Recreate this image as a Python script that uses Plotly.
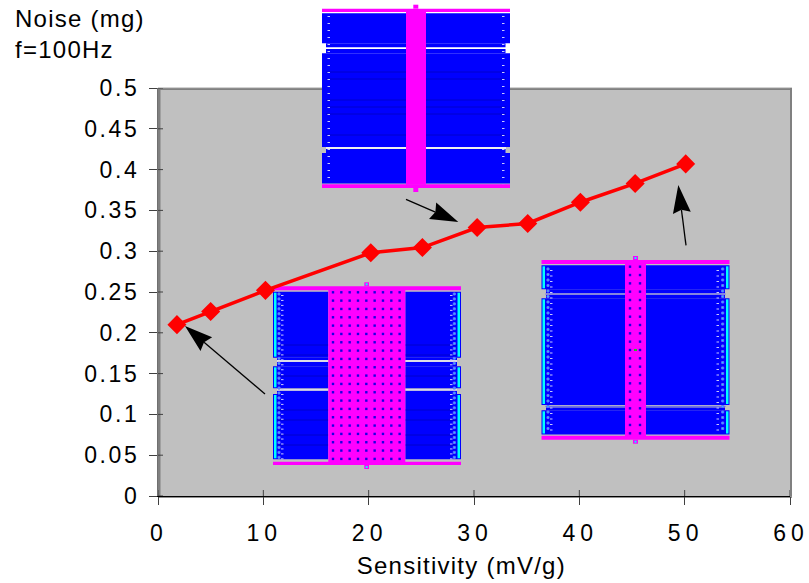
import math
import plotly.graph_objects as go

# ---- chart data ----
sensitivity = [1.8, 5, 10.2, 20.2, 25.1, 30.3, 35.1, 40.1, 45.3, 50.1]
noise = [0.21, 0.226, 0.252, 0.298, 0.3045, 0.329, 0.334, 0.36, 0.383, 0.407]
x_ticks = [0, 10, 20, 30, 40, 50, 60]
y_ticks = [0, 0.05, 0.1, 0.15, 0.2, 0.25, 0.3, 0.35, 0.4, 0.45, 0.5]
x_title = "Sensitivity (mV/g)"
y_title = "Noise (mg)<br>f=100Hz"

W, H = 809, 583
L, R, T, B = 158, 790, 88, 496
BLUE, MAG, CYAN = "#0000FF", "#FF00FF", "#00FFFF"


def px(x):
    return (x - L) / (R - L)


def py(y):
    return (B - y) / (B - T)


shapes = []


def rect(x0, y0, x1, y1, color, line=None):
    shapes.append(dict(type="rect", xref="paper", yref="paper", layer="below",
                       x0=px(x0), x1=px(x1), y0=py(y0), y1=py(y1), fillcolor=color,
                       line=dict(width=1 if line else 0, color=line or color)))


def hline(x0, x1, y, color, width=1):
    shapes.append(dict(type="line", xref="paper", yref="paper", layer="below",
                       x0=px(x0), x1=px(x1), y0=py(y), y1=py(y),
                       line=dict(width=width, color=color)))


def inset(xl, xr, nl, nr, cl, cr, tabl, tabr, bar_top, bar_bot, wide, narrow, gaps,
          gapcolor, faint, dots_x, dots_y, cyan, tab_len, side_y, sx_l, sx_r, tick_l, tick_r):
    # blue winding blocks, left and right of the centre column
    for y0, y1 in narrow:
        rect(nl, y0, cl, y1, BLUE)
        rect(cr, y0, nr, y1, BLUE)
    for y0, y1 in wide:
        rect(xl, y0, cl, y1, BLUE)
        rect(cr, y0, xr, y1, BLUE)
        if cyan:
            rect(xl + 1, y0 + 1, xl + 3.5, y1 - 1, CYAN)
            rect(xr - 3.5, y0 + 1, xr - 1, y1 - 1, CYAN)
    for y in gaps:
        hline(xl + 4, cl, y, gapcolor, 1.3)
        hline(cr, xr - 4, y, gapcolor, 1.3)
    for y in faint:
        hline(xl + 4, cl, y, "#0000CC", 1)
        hline(cr, xr - 4, y, "#0000CC", 1)
    # side pads and small ticks
    for y in side_y:
        if cyan:
            rect(sx_l - 1, y - 1, sx_l + 1, y + 1, CYAN, "#6666FF")
            rect(sx_r - 1, y - 1, sx_r + 1, y + 1, CYAN, "#6666FF")
        hline(tick_l, tick_l + 2.5, y + 1.5, "#C8C8FF", 1)
        hline(tick_r - 2.5, tick_r, y + 1.5, "#C8C8FF", 1)
    # magenta centre, caps and tabs
    rect(cl, bar_top[1] - 0.5, cr, bar_bot[0] + 0.5, MAG)
    rect(xl, bar_top[0], xr, bar_top[1], MAG)
    rect(xl, bar_bot[0], xr, bar_bot[1], MAG)
    rect(tabl, bar_top[0] - tab_len, tabr, bar_top[0], MAG)
    rect(tabl, bar_bot[1], tabr, bar_bot[1] + tab_len, MAG)
    if cyan:
        mid = (tabl + tabr) / 2
        rect(mid - 1, bar_top[0] - tab_len + 1, mid + 1, bar_top[0] - 1, CYAN)
        rect(mid - 1, bar_bot[1] + 1, mid + 1, bar_bot[1] + tab_len - 1, CYAN)
    for yy in dots_y:
        for xx in dots_x:
            rect(xx - 1.2, yy - 1.2, xx + 1.2, yy + 1.2, "#1A00E0")


def arrow(x0, y0, x1, y1, length=28, half=9, notch=3):
    # tail (x0, y0) to tip (x1, y1): thin shaft and a filled head
    d = math.hypot(x1 - x0, y1 - y0)
    ux, uy = (x1 - x0) / d, (y1 - y0) / d
    nx, ny = -uy, ux
    bx, by = x1 - ux * length, y1 - uy * length
    cx, cy = x1 - ux * (length - notch), y1 - uy * (length - notch)
    shapes.append(dict(type="line", xref="paper", yref="paper", layer="above",
                       x0=px(x0), y0=py(y0), x1=px(cx), y1=py(cy),
                       line=dict(color="#000000", width=1.3)))
    pts = [(x1, y1), (bx + nx * half, by + ny * half), (cx, cy), (bx - nx * half, by - ny * half)]
    path = "M" + " L".join(f"{px(a):.5f},{py(b):.5f}" for a, b in pts) + " Z"
    shapes.append(dict(type="path", xref="paper", yref="paper", layer="above", path=path,
                       fillcolor="#000000", line=dict(width=0)))


# chart frame shadow
rect(L - 0.5, T, R + 2, T + 2, "#808080")
hline(L, R + 2, T - 0.3, "#C8C8C8", 1)
rect(L, T, L + 2.5, B, "#808080")
rect(R, T, R + 2, B + 2, "#808080")
rect(L, B, R + 2, B + 2, "#909090")

# top inset
inset(322, 510, 326, 505.5, 406, 426, 413.3, 418.3, (8.7, 12), (184.3, 188),
      wide=[(13.3, 43.3), (53.3, 147), (153, 183.5)],
      narrow=[(43.3, 47.5), (49, 53.3), (149, 153)],
      gaps=[48.2, 148], gapcolor="#FFFFFF",
      faint=[72, 79, 100, 107, 114, 135], dots_x=[], dots_y=[], cyan=False, tab_len=4,
      side_y=[15 + 7 * i for i in range(25)], sx_l=328, sx_r=504, tick_l=327.5, tick_r=504.5)

# lower-left inset
inset(273, 461, 277, 457, 328.3, 405.3, 364.3, 369, (286.3, 290.3), (461.7, 465),
      wide=[(291.7, 357.7), (366.3, 388.3), (394, 459.3)],
      narrow=[(357.7, 360), (362, 366.3), (390.8, 394)],
      gaps=[361, 389.8], gapcolor="#E4E4F4",
      faint=[345, 355, 376, 410, 420, 435, 445],
      dots_x=[333 + 8.33 * i for i in range(9)], dots_y=[292.3 + 8.33 * i for i in range(21)],
      cyan=True, tab_len=4, side_y=[294 + 4.95 * i for i in range(34)],
      sx_l=279, sx_r=454.3, tick_l=281, tick_r=452.5)

# lower-right inset
inset(541.5, 729.5, 546, 725, 625, 646, 633, 638, (260, 264), (435.7, 439.7),
      wide=[(265.3, 289.3), (298.3, 405), (410.3, 434.5)],
      narrow=[(289.3, 293), (295, 298.3), (407.5, 410.3)],
      gaps=[294, 406.3], gapcolor="#7070E8",
      faint=[], dots_x=[630, 640], dots_y=[266.7 + 8.33 * i for i in range(21)],
      cyan=True, tab_len=4, side_y=[269 + 5.5 * i for i in range(30)],
      sx_l=548, sx_r=722.7, tick_l=550, tick_r=719)
rect(634, 349, 637, 351, "#20C020")

# arrows from the inset drawings to the curve
arrow(406, 199.3, 458.3, 222)
arrow(265, 394, 185, 326)
arrow(686, 245.3, 678.3, 185)

# inner tick stubs
for v in x_ticks:
    shapes.append(dict(type="line", xref="x", yref="paper", x0=v, x1=v, y0=py(B), y1=py(B - 6),
                       layer="above", line=dict(color="#404040", width=1)))
for v in y_ticks:
    shapes.append(dict(type="line", xref="paper", yref="y", x0=px(L), x1=px(L + 5), y0=v, y1=v,
                       layer="above", line=dict(color="#404040", width=1)))

fig = go.Figure(go.Scatter(
    x=sensitivity, y=noise, mode="lines+markers", showlegend=False, cliponaxis=False,
    line=dict(color="#FF0000", width=3.5),
    marker=dict(symbol="diamond", size=12.5, color="#FF0000", line=dict(color="#FF0000", width=2)),
))

font = dict(family="Liberation Sans, Arial, sans-serif", size=24, color="#000000")
tick_font = dict(family="Liberation Sans, Arial, sans-serif", size=23, color="#000000")
axis = dict(ticks="outside", ticklen=8, tickwidth=1, tickcolor="#404040", showgrid=False,
            zeroline=False, showline=True, linewidth=1, tickfont=tick_font, automargin=False)

annotations = [
    dict(xref="paper", yref="paper", x=px(13), y=py(3), xanchor="left", yanchor="top", align="left",
         text=y_title, showarrow=False, font=font),
    dict(xref="paper", yref="paper", x=px(461), y=py(565), xanchor="center", yanchor="middle",
         text=x_title, showarrow=False, font=font),
]

fig.update_layout(
    width=W, height=H, autosize=False,
    margin=dict(l=L, r=W - R, t=T, b=H - B, pad=0, autoexpand=False),
    paper_bgcolor="#FFFFFF", plot_bgcolor="#C0C0C0",
    xaxis=dict(range=[0, 60], tickvals=x_ticks, linecolor="#000000",
               ticklabelstandoff=8, ticklabelshift=1, **axis),
    yaxis=dict(range=[0, 0.5], tickvals=y_ticks, ticktext=[f"{v:g}" for v in y_ticks],
               linecolor="#707070", ticklabelstandoff=5, **axis),
    shapes=shapes, annotations=annotations, font=font,
)

page_css = """
var s = document.createElement('style');
s.textContent = 'html, body { margin: 0; padding: 0; background: #fff; width: 809px; height: 583px; overflow: hidden; }'
  + ' .xtick text { letter-spacing: 5px; } .ytick text { letter-spacing: 2.6px; }'
  + ' .annotation-text { letter-spacing: 1.25px; }';
document.head.appendChild(s);
"""
fig.write_html("out.html", post_script=page_css, config=dict(displayModeBar=False))
